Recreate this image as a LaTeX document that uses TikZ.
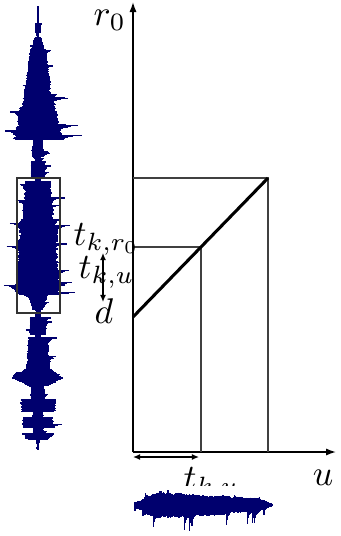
\documentclass[tikz,border=0pt]{standalone}
\usetikzlibrary{arrows.meta}
\definecolor{wavecol}{RGB}{0,0,110}
\begin{document}
\begin{tikzpicture}[x=0.28pt,y=-0.28pt,
  wave/.style={draw=wavecol,line width=0.36pt},
  axis/.style={line width=0.4pt,-{Latex[length=2.8pt,width=2pt]}},
  proj/.style={draw=black!75,line width=0.3pt},
  dbl/.style={line width=0.35pt,{Latex[length=2pt,width=1.7pt]}-{Latex[length=2pt,width=1.7pt]}},
  lbl/.style={inner sep=0pt}]
\useasboundingbox (0,0) rectangle (341,536);
\pgfmathsetseed{11}
\gdef\pl{0.9}\gdef\pr{0.9}\gdef\sl{0}\gdef\sr{0}
% vertical seismogram
\foreach \ya/\yb/\wa/\wb in {7/24/0.8/0.8, 24/33/3/3, 33/38/1.5/1.5, 38/50/4/8, 50/85/9/14,
  85/100/13/17, 100/115/16/23, 115/140/22/27, 140/150/6/6, 150/157/7.5/6.5, 157/162/3.5/3.5,
  162/177/8/8, 177/182/3.5/3.5, 182/220/15/17, 220/245/20/22, 245/285/21/24, 285/295/26/23,
  295/310/11/6, 310/318/3/3, 318/335/9/9, 335/338/3.5/3.5, 338/370/11/14, 370/378/16/29,
  378/386/29/11, 386/390/7/7, 390/400/8/8, 400/412/21/19, 412/418/6/6, 418/428/17/17,
  428/434/6/6, 434/440/17/11, 440/450/2/1}{
  \pgfmathsetmacro{\yc}{\ya+0.8}
  \foreach \y in {\ya,\yc,...,\yb}{
    \pgfmathsetmacro{\wv}{\wa+(\wb-\wa)*(\y-\ya)/(\yb-\ya)}
    \pgfmathsetmacro{\nl}{0.55*\pl+0.45*(0.75+0.25*rnd)}
    \pgfmathsetmacro{\nr}{0.55*\pr+0.45*(0.75+0.25*rnd)}
    \pgfmathsetmacro{\ssl}{rnd>0.96 ? 0.2+0.4*rnd : 0.55*\sl}
    \pgfmathsetmacro{\ssr}{rnd>0.93 ? 0.3+0.6*rnd : 0.6*\sr}
    \xdef\pl{\nl}\xdef\pr{\nr}\xdef\sl{\ssl}\xdef\sr{\ssr}
    \pgfmathsetmacro{\lw}{\wv*(\nl+\ssl)}
    \pgfmathsetmacro{\rw}{\wv*(\nr+\ssr)}
    \draw[wave] (38-\lw,\y) -- (38+\rw,\y);
  }
}
% box
\draw[black!80,line width=0.3pt] (17,178) rectangle (60,313);
% coordinates
\coordinate (O) at (133,452);
\coordinate (ytop) at (133,2);
\coordinate (xend) at (336,452);
\coordinate (A) at (133,317);
\coordinate (B) at (201,247);
\coordinate (C) at (268,178);
\coordinate (By) at (133,247);
\coordinate (Cy) at (133,178);
\coordinate (Bx) at (201,452);
\coordinate (Cx) at (268,452);
\coordinate (h1) at (133,457);
\coordinate (h2) at (199,457);
\coordinate (v1) at (103,253);
\coordinate (v2) at (103,302);
% axes and lines
\draw[axis] (O) -- (ytop);
\draw[axis] (O) -- (xend);
\draw[proj] (Cy) -- (C) -- (Cx);
\draw[proj] (By) -- (B) -- (Bx);
\draw[line width=0.85pt] (A) -- (C);
\draw[dbl] (h1) -- (h2);
\draw[dbl] (v1) -- (v2);
% labels
\node[lbl,anchor=base west] (r0) at (93,25) {$r_0$};
\node[lbl,anchor=base west] (tkr) at (73,245) {$t_{k,r_0}$};
\node[lbl,anchor=base west] (tku) at (78,278) {$t_{k,u}$};
\node[lbl,anchor=base] (d) at (104,323) {$d$};
\node[lbl,anchor=base] (u) at (323,485) {$u$};
\node[lbl,anchor=base west] (tkub) at (183,489) {$t_{k,u}$};
% mask of the bottom image
\fill[white] (125,486) rectangle (290,536);
% horizontal seismogram
\gdef\pl{0.9}\gdef\pr{0.9}\gdef\sl{0}\gdef\sr{0}
\foreach \xa/\xb/\ua/\ub/\da/\db in {135/145/3/7/3/7, 145/160/9/14/10/14, 160/195/14/12/14/13,
  195/230/11/10/12/11, 230/260/9/8/9/8, 260/273/7/1/7/1}{
  \pgfmathsetmacro{\xc}{\xa+0.8}
  \foreach \x in {\xa,\xc,...,\xb}{
    \pgfmathsetmacro{\fr}{(\x-\xa)/(\xb-\xa)}
    \pgfmathsetmacro{\nl}{0.55*\pl+0.45*(0.75+0.25*rnd)}
    \pgfmathsetmacro{\nr}{0.55*\pr+0.45*(0.75+0.25*rnd)}
    \pgfmathsetmacro{\ssl}{rnd>0.96 ? 0.15+0.2*rnd : 0.55*\sl}
    \pgfmathsetmacro{\ssr}{rnd>0.88 ? 0.6+0.9*rnd : 0.5*\sr}
    \xdef\pl{\nl}\xdef\pr{\nr}\xdef\sl{\ssl}\xdef\sr{\ssr}
    \pgfmathsetmacro{\uw}{(\ua+(\ub-\ua)*\fr)*(\nl+\ssl)}
    \pgfmathsetmacro{\dw}{(\da+(\db-\da)*\fr)*(\nr+\ssr)}
    \draw[wave] (\x,505-\uw) -- (\x,505+\dw);
  }
}
\end{tikzpicture}
\end{document}
